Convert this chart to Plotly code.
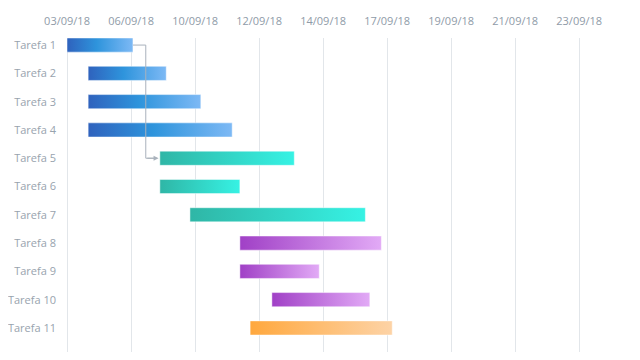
import plotly.graph_objects as go

tasks = ["Tarefa 1", "Tarefa 2", "Tarefa 3", "Tarefa 4", "Tarefa 5", "Tarefa 6",
         "Tarefa 7", "Tarefa 8", "Tarefa 9", "Tarefa 10", "Tarefa 11"]
# positions in grid-interval units (0 = 03/09/18 tick)
starts = [0.0, 0.33, 0.33, 0.33, 1.45, 1.45, 1.92, 2.70, 2.70, 3.20, 2.86]
ends = [1.03, 1.55, 2.09, 2.58, 3.55, 2.70, 4.66, 4.91, 3.94, 4.73, 5.08]
groups = ["blue", "blue", "blue", "blue", "teal", "teal", "teal", "purple", "purple", "purple", "orange"]
tick_labels = ["03/09/18", "06/09/18", "10/09/18", "12/09/18", "14/09/18",
               "17/09/18", "19/09/18", "21/09/18", "23/09/18"]

gradients = {
    "blue": [[0, "#2f62bd"], [0.45, "#2e94dc"], [1, "#7db9f5"]],
    "teal": [[0, "#2fb6a6"], [1, "#36f2e4"]],
    "purple": [[0, "#a040c6"], [1, "#e2aaf6"]],
    "orange": [[0, "#ffa83e"], [1, "#fdd3a6"]],
}

half = 0.25
fig = go.Figure()
for i, (t, s, e, g) in enumerate(zip(tasks, starts, ends, groups)):
    fig.add_trace(go.Scatter(
        x=[s, e, e, s, s],
        y=[i - half, i - half, i + half, i + half, i - half],
        mode="lines", fill="toself",
        line=dict(width=0.8, color="rgba(255,255,255,0.6)"),
        fillgradient=dict(type="horizontal", colorscale=gradients[g]),
        name=t, hoverinfo="name", showlegend=False,
    ))

# dependency connector Tarefa 1 -> Tarefa 5
src, dst = 0, 4
elbow = ends[src] + 0.2
fig.add_trace(go.Scatter(
    x=[ends[src], elbow, elbow, starts[dst] - 0.05],
    y=[src, src, dst, dst],
    mode="lines", line=dict(color="#a9b2bc", width=1),
    hoverinfo="skip", showlegend=False,
))
fig.add_annotation(
    x=starts[dst] - 0.02, y=dst, ax=elbow, ay=dst,
    xref="x", yref="y", axref="x", ayref="y",
    showarrow=True, arrowhead=2, arrowsize=1, arrowwidth=1,
    arrowcolor="#a9b2bc", text="",
)

# the page body adds an 8px offset, so the figure is 8px smaller each way
fig.update_layout(
    width=632, height=352,
    margin=dict(l=58, r=0, t=30, b=8, autoexpand=False),
    paper_bgcolor="white", plot_bgcolor="white",
    font=dict(family="Open Sans", size=11, color="#8f9ba8"),
    xaxis=dict(
        side="top", range=[-0.016, 8.95], automargin=False,
        tickvals=list(range(len(tick_labels))), ticktext=tick_labels,
        showgrid=True, gridcolor="#e2e6ea", gridwidth=1,
        zeroline=False, showline=False, ticks="",
        ticklabelstandoff=10,
        tickfont=dict(size=11, color="#8f9ba8"),
    ),
    yaxis=dict(
        range=[10.85, -0.25], automargin=False,
        tickvals=list(range(len(tasks))), ticktext=tasks,
        showgrid=False, zeroline=False, showline=False, ticks="",
        ticklabelstandoff=9,
        tickfont=dict(size=11, color="#98a3ae"),
    ),
)

fig.write_html("out.html")
